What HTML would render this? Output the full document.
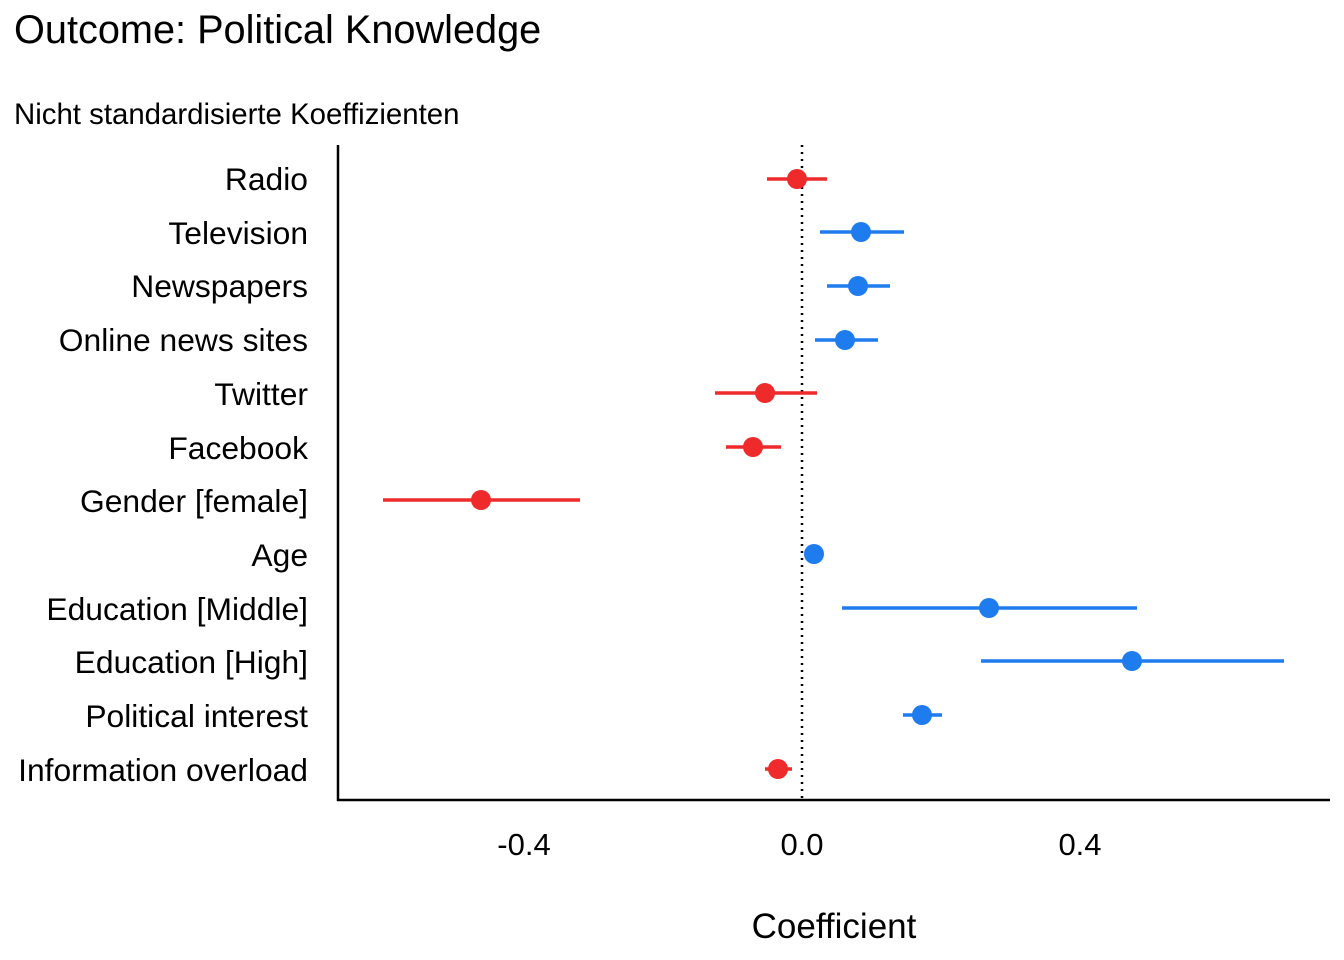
<!DOCTYPE html>
<html><head><meta charset="utf-8"><style>
html,body{margin:0;padding:0;background:#fff;}
svg{display:block;font-family:"Liberation Sans",Arial,sans-serif;}
</style></head><body>
<svg width="1344" height="960" viewBox="0 0 1344 960" xmlns="http://www.w3.org/2000/svg">
<rect width="1344" height="960" fill="#fff"/>
<text x="14" y="43" font-size="39.7" fill="#000">Outcome: Political Knowledge</text>
<text x="14" y="124" font-size="29.4" fill="#000">Nicht standardisierte Koeffizienten</text>
<line x1="338" y1="145" x2="338" y2="801" stroke="#000" stroke-width="2.5"/>
<line x1="337" y1="800" x2="1330" y2="800" stroke="#000" stroke-width="2.5"/>
<line x1="802" y1="145" x2="802" y2="800" stroke="#000" stroke-width="2.5" stroke-dasharray="2,5"/>
<g font-size="31.8" text-anchor="end" fill="#000">
<text x="308" y="190">Radio</text>
<text x="308" y="244">Television</text>
<text x="308" y="297">Newspapers</text>
<text x="308" y="351">Online news sites</text>
<text x="308" y="405">Twitter</text>
<text x="308" y="459">Facebook</text>
<text x="308" y="512">Gender [female]</text>
<text x="308" y="566">Age</text>
<text x="308" y="620">Education [Middle]</text>
<text x="308" y="673">Education [High]</text>
<text x="308" y="727">Political interest</text>
<text x="308" y="781">Information overload</text>
</g>
<g font-size="31" text-anchor="middle" fill="#000">
<text x="524" y="855">-0.4</text>
<text x="802" y="855">0.0</text>
<text x="1080" y="855">0.4</text>
</g>
<text x="834" y="938" font-size="35" text-anchor="middle" fill="#000">Coefficient</text>
<g stroke-width="3.5">
<g stroke="#ee2a2a" fill="#ee2a2a">
<line x1="767" y1="179" x2="827" y2="179"/><circle cx="797" cy="179" r="10" stroke="none"/>
<line x1="715" y1="393" x2="817" y2="393"/><circle cx="765" cy="393" r="10" stroke="none"/>
<line x1="726" y1="447" x2="781" y2="447"/><circle cx="753" cy="447" r="10" stroke="none"/>
<line x1="383" y1="500" x2="580" y2="500"/><circle cx="481" cy="500" r="10" stroke="none"/>
<line x1="765" y1="769" x2="792" y2="769"/><circle cx="778" cy="769" r="10" stroke="none"/>
</g>
<g stroke="#1f7cef" fill="#1f7cef">
<line x1="820" y1="232" x2="904" y2="232"/><circle cx="861" cy="232" r="10" stroke="none"/>
<line x1="827" y1="286" x2="890" y2="286"/><circle cx="858" cy="286" r="10" stroke="none"/>
<line x1="815" y1="340" x2="878" y2="340"/><circle cx="845" cy="340" r="10" stroke="none"/>
<circle cx="814" cy="554" r="10" stroke="none"/>
<line x1="842" y1="608" x2="1137" y2="608"/><circle cx="989" cy="608" r="10" stroke="none"/>
<line x1="981" y1="661" x2="1284" y2="661"/><circle cx="1132" cy="661" r="10" stroke="none"/>
<line x1="903" y1="715" x2="942" y2="715"/><circle cx="922" cy="715" r="10" stroke="none"/>
</g>
</g>
</svg>
</body></html>
